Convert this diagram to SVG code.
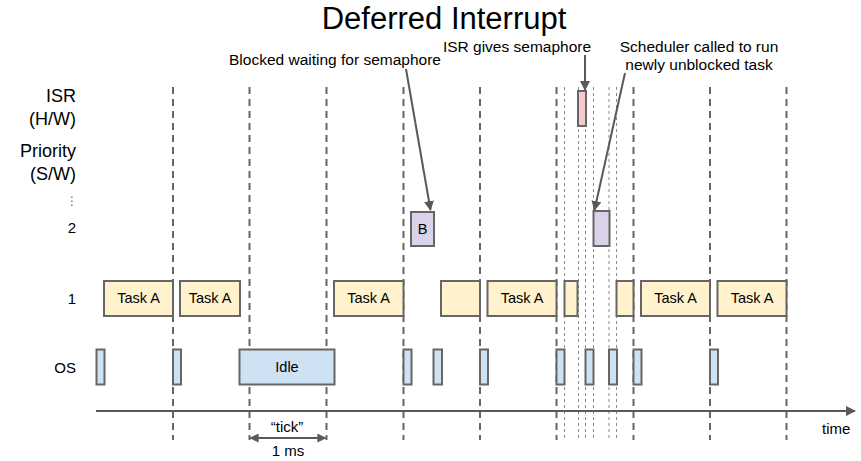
<svg xmlns="http://www.w3.org/2000/svg" width="861" height="461" viewBox="0 0 861 461">
<defs>
<marker id="ah" viewBox="0 0 10 10" refX="9" refY="5" markerWidth="10" markerHeight="10" markerUnits="userSpaceOnUse" orient="auto-start-reverse">
<path d="M0,0 L10,5 L0,10 z" fill="#595959"/>
</marker>
<marker id="ahs" viewBox="0 0 10 10" refX="9" refY="5" markerWidth="9" markerHeight="9" markerUnits="userSpaceOnUse" orient="auto-start-reverse">
<path d="M0,0 L10,5 L0,10 z" fill="#595959"/>
</marker>
<style>
text{font-family:"Liberation Sans",Arial,sans-serif;fill:#000}
.lbl{font-size:18px;text-anchor:end}
.row{font-size:15px;text-anchor:end}
.ann{font-size:15.5px;text-anchor:middle}
.tl{font-size:14.5px;text-anchor:middle}
.tick{stroke:#666;stroke-width:2;stroke-dasharray:7 5;fill:none}
.dot{stroke:#888;stroke-width:1;stroke-dasharray:3 3;fill:none}
.box{stroke:#666;stroke-width:2}
.task{fill:#fff2cc}
.os{fill:#cfe2f3}
.pb{fill:#d9d2e9}
.isr{fill:#f4cccc}
.conn{stroke:#595959;stroke-width:2;fill:none}
</style>
</defs>
<rect width="861" height="461" fill="#fff"/>
<text x="444" y="29" style="font-size:31px;text-anchor:middle">Deferred Interrupt</text>

<g id="labels">
<text class="lbl" x="76" y="102">ISR</text>
<text class="lbl" x="76" y="125">(H/W)</text>
<text class="lbl" x="76" y="157">Priority</text>
<text class="lbl" x="76" y="180">(S/W)</text>
<text x="72" y="205" style="font-family:'DejaVu Sans',sans-serif;font-size:12px;text-anchor:middle;fill:#666">⋮</text>
<text class="row" x="76" y="233">2</text>
<text class="row" x="76" y="304">1</text>
<text class="row" x="76" y="373">OS</text>
</g>

<g id="ticks">
<line class="tick" x1="173" y1="87" x2="173" y2="440"/>
<line class="tick" x1="249.5" y1="87" x2="249.5" y2="440"/>
<line class="tick" x1="326.5" y1="87" x2="326.5" y2="440"/>
<line class="tick" x1="403.5" y1="87" x2="403.5" y2="440"/>
<line class="tick" x1="480" y1="87" x2="480" y2="440"/>
<line class="tick" x1="556.5" y1="87" x2="556.5" y2="440"/>
<line class="tick" x1="633.5" y1="87" x2="633.5" y2="440"/>
<line class="tick" x1="710" y1="87" x2="710" y2="440"/>
<line class="tick" x1="786.5" y1="87" x2="786.5" y2="440"/>
<line class="dot" x1="564.5" y1="87" x2="564.5" y2="440"/>
<line class="dot" x1="578.5" y1="87" x2="578.5" y2="440"/>
<line class="dot" x1="585.5" y1="87" x2="585.5" y2="440"/>
<line class="dot" x1="593.5" y1="87" x2="593.5" y2="440"/>
<line class="dot" x1="609" y1="87" x2="609" y2="440"/>
<line class="dot" x1="616.5" y1="87" x2="616.5" y2="440"/>
</g>

<g id="isr1"><rect class="box isr" x="578" y="91" width="8" height="35"/></g>
<g id="b1"><rect class="box pb" x="411" y="212" width="23" height="34"/><text class="tl" x="422.5" y="234">B</text></g>
<g id="b2"><rect class="box pb" x="593.5" y="211" width="16" height="35"/></g>

<g id="t1"><rect class="box task" x="104" y="281" width="69" height="35"/><text class="tl" x="138.5" y="303">Task A</text></g>
<g id="t2"><rect class="box task" x="180" y="281" width="60" height="35"/><text class="tl" x="210" y="303">Task A</text></g>
<g id="t3"><rect class="box task" x="334" y="281" width="69.5" height="35"/><text class="tl" x="368.5" y="303">Task A</text></g>
<g id="t4"><rect class="box task" x="441" y="281" width="39" height="35"/></g>
<g id="t5"><rect class="box task" x="487.5" y="281" width="69" height="35"/><text class="tl" x="522" y="303">Task A</text></g>
<g id="t6"><rect class="box task" x="564.5" y="281" width="13" height="35"/></g>
<g id="t7"><rect class="box task" x="616.5" y="281" width="17" height="35"/></g>
<g id="t8"><rect class="box task" x="641" y="281" width="69" height="35"/><text class="tl" x="675.5" y="303">Task A</text></g>
<g id="t9"><rect class="box task" x="717.5" y="281" width="69" height="35"/><text class="tl" x="752" y="303">Task A</text></g>

<g id="os1"><rect class="box os" x="96.5" y="349.5" width="8" height="35"/></g>
<g id="os2"><rect class="box os" x="173" y="349.5" width="8" height="35"/></g>
<g id="idle"><rect class="box os" x="239.5" y="349.5" width="95" height="35"/><text class="tl" x="287" y="372">Idle</text></g>
<g id="os4"><rect class="box os" x="403.5" y="349.5" width="8" height="35"/></g>
<g id="os5"><rect class="box os" x="433.5" y="349.5" width="8.5" height="35"/></g>
<g id="os6"><rect class="box os" x="480" y="349.5" width="8" height="35"/></g>
<g id="os7"><rect class="box os" x="556.5" y="349.5" width="8" height="35"/></g>
<g id="os8"><rect class="box os" x="585.5" y="349.5" width="8" height="35"/></g>
<g id="os9"><rect class="box os" x="609" y="349.5" width="8" height="35"/></g>
<g id="os10"><rect class="box os" x="633.5" y="349.5" width="8" height="35"/></g>
<g id="os11"><rect class="box os" x="710" y="349.5" width="8" height="35"/></g>

<g id="annotations">
<text class="ann" x="335" y="65">Blocked waiting for semaphore</text>
<text class="ann" x="517" y="52">ISR gives semaphore</text>
<text class="ann" x="699" y="52">Scheduler called to run</text>
<text class="ann" x="699" y="70">newly unblocked task</text>
<text x="822" y="434" style="font-size:15px">time</text>
<text class="ann" x="287" y="432" style="font-size:15px">“tick”</text>
<text class="ann" x="288" y="456" style="font-size:15px">1 ms</text>
</g>

<g id="connectors">
<line class="conn" x1="96" y1="411" x2="855" y2="411" marker-end="url(#ah)"/>
<line class="conn" x1="406" y1="69" x2="430.5" y2="210" marker-end="url(#ah)"/>
<line class="conn" x1="585" y1="55" x2="585" y2="90" marker-end="url(#ah)"/>
<line class="conn" x1="625" y1="73" x2="594.5" y2="210" marker-end="url(#ah)"/>
<line class="conn" x1="250.5" y1="438" x2="325.5" y2="438" marker-start="url(#ahs)" marker-end="url(#ahs)"/>
</g>
</svg>
